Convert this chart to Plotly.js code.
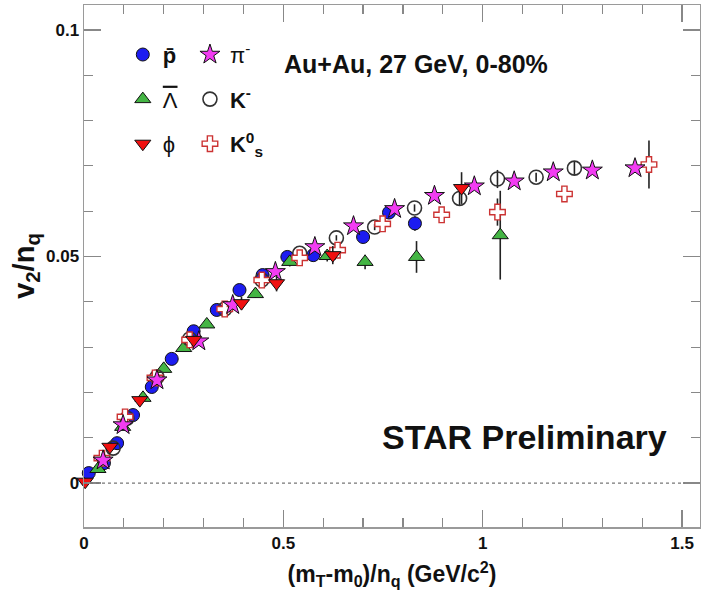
<!DOCTYPE html>
<html>
<head>
<meta charset="utf-8">
<script src="https://cdn.plot.ly/plotly-3.0.1.min.js"></script>
<style>html,body{margin:0;padding:0;background:#fff;}#chart{width:701px;height:598px;}</style>
</head>
<body>
<div id="chart"></div>
<script>
// ---- data ----
var pbarX = [0.012, 0.05, 0.083, 0.123, 0.17, 0.22, 0.275, 0.333, 0.39, 0.448, 0.51, 0.575, 0.70, 0.765, 0.83];
var pbarY = [0.0022, 0.0044, 0.0088, 0.015, 0.0212, 0.0274, 0.0335, 0.0382, 0.0426, 0.0459, 0.0499, 0.0503, 0.0543, 0.0597, 0.0573];
var pbarE = [0.0004, 0.0004, 0.0004, 0.0004, 0.0004, 0.0005, 0.0005, 0.0005, 0.0006, 0.0006, 0.0007, 0.0008, 0.0010, 0.0012, 0.0016];

var lamX = [0.035, 0.097, 0.148, 0.20, 0.25, 0.308, 0.43, 0.516, 0.61, 0.705, 0.834, 1.044];
var lamY = [0.0031, 0.0124, 0.0188, 0.0252, 0.0298, 0.035, 0.0417, 0.0488, 0.0501, 0.0488, 0.0499, 0.0547];
var lamE = [0.0004, 0.0005, 0.0005, 0.0005, 0.0006, 0.0006, 0.0008, 0.0010, 0.0012, 0.0016, 0.0035, 0.0098];

var phiX = [0.003, 0.065, 0.14, 0.275, 0.395, 0.483, 0.624, 0.947];
var phiY = [0.0003, 0.008, 0.0183, 0.0316, 0.0397, 0.0441, 0.0503, 0.0651];
var phiE = [0.0007, 0.0007, 0.0008, 0.0009, 0.0014, 0.0018, 0.0020, 0.0035];

var piX = [0.048, 0.098, 0.183, 0.288, 0.373, 0.48, 0.579, 0.676, 0.779, 0.879, 0.979, 1.079, 1.177, 1.275, 1.382];
var piY = [0.005, 0.0128, 0.0227, 0.0313, 0.0393, 0.0466, 0.0521, 0.0567, 0.0605, 0.0634, 0.0655, 0.0666, 0.0686, 0.069, 0.0695];
var piE = [0.0003, 0.0003, 0.0003, 0.0003, 0.0003, 0.0003, 0.0004, 0.0004, 0.0004, 0.0005, 0.0005, 0.0006, 0.0006, 0.0007, 0.0008];

var kmX = [0.073, 0.108, 0.183, 0.265, 0.353, 0.446, 0.541, 0.633, 0.729, 0.829, 0.942, 1.037, 1.134, 1.23];
var kmY = [0.0077, 0.0143, 0.0234, 0.0318, 0.0384, 0.0448, 0.0507, 0.0541, 0.0565, 0.0607, 0.0628, 0.0671, 0.0675, 0.0695];
var kmE = [0.0004, 0.0004, 0.0004, 0.0004, 0.0005, 0.0005, 0.0006, 0.0006, 0.0007, 0.0008, 0.0015, 0.0020, 0.0010, 0.0015];

var k0X = [0.045, 0.103, 0.178, 0.265, 0.353, 0.446, 0.541, 0.636, 0.749, 0.897, 1.037, 1.205, 1.417];
var k0Y = [0.0055, 0.0146, 0.0232, 0.0316, 0.0384, 0.0448, 0.0497, 0.0514, 0.0572, 0.0592, 0.0598, 0.0638, 0.0703];
var k0E = [0.0003, 0.0003, 0.0003, 0.0003, 0.0004, 0.0004, 0.0005, 0.0005, 0.0006, 0.0008, 0.0030, 0.0017, 0.0053];

var xTickVals = [0, 0.5, 1, 1.5];
var xTickText = ['0', '0.5', '1', '1.5'];
var yTickVals = [0, 0.05, 0.1];
var yTickText = ['0', '0.05', '0.1'];

// ---- styling ----
var FONT = 'Liberation Sans, Arial, Helvetica, sans-serif';
function err(e) {
  return {type: 'data', array: e, visible: true, color: '#222', thickness: 1.6, width: 0};
}
function tr(x, y, e, name, legend, rank, marker) {
  return {x: x, y: y, error_y: err(e), type: 'scatter', mode: 'markers', name: name,
          legend: legend, legendgroup: name, legendrank: rank, marker: marker, cliponaxis: false};
}
var traces = [
  tr(pbarX, pbarY, pbarE, '<b>p&#772;</b>', 'legend', 1,
     {symbol: 'circle', size: 13, color: '#1c1cf0', line: {color: '#111', width: 1}}),
  tr(lamX, lamY, lamE, '<span style="text-decoration:overline">&#923;</span>', 'legend', 2,
     {symbol: 'triangle-up', size: 14, color: '#44b544', line: {color: '#111', width: 1}}),
  tr(kmX, kmY, kmE, '<b>K<sup>-</sup></b>', 'legend2', 2,
     {symbol: 'circle-open', size: 14, color: '#333', line: {color: '#333', width: 1.6}}),
  tr(k0X, k0Y, k0E, '<b>K<sup>0</sup><sub>s</sub></b>', 'legend2', 3,
     {symbol: 'cross', size: 13, color: '#ffffff', line: {color: '#cc3333', width: 1.4}}),
  tr(piX, piY, piE, '&#960;<sup>-</sup>', 'legend2', 1,
     {symbol: 'star', size: 15, color: '#f23cf2', line: {color: '#111', width: 1}}),
  tr(phiX, phiY, phiE, '&#981;', 'legend', 3,
     {symbol: 'triangle-down', size: 14, color: '#f01010', line: {color: '#111', width: 1}})
];

var axisCommon = {
  showgrid: false, zeroline: false, showline: true, linecolor: '#9a9a9a', linewidth: 1.5,
  ticks: 'inside', ticklen: 17, tickwidth: 1.3, tickcolor: '#888', mirror: 'allticks',
  tickfont: {family: FONT, size: 17, color: '#111', weight: 'bold'},
  tickmode: 'array'
};
var layout = {
  width: 701, height: 598,
  margin: {l: 84, r: 1, t: 5, b: 71},
  paper_bgcolor: '#fff', plot_bgcolor: '#fff',
  font: {family: FONT, color: '#111'},
  showlegend: true,
  xaxis: Object.assign({}, axisCommon, {
    range: [0, 1.545], tickvals: xTickVals, ticktext: xTickText,
    minor: {dtick: 0.1, tick0: 0, ticks: 'inside', ticklen: 9, tickwidth: 1.2, tickcolor: '#888'},
    title: {text: '<b>(m<sub>T</sub>-m<sub>0</sub>)/n<sub>q</sub> (GeV/c<sup>2</sup>)</b>',
            font: {family: FONT, size: 23, color: '#111'}, standoff: 14}
  }),
  yaxis: Object.assign({}, axisCommon, {
    range: [-0.0097, 0.1055], tickvals: yTickVals, ticktext: yTickText,
    minor: {dtick: 0.01, tick0: 0, ticks: 'inside', ticklen: 9, tickwidth: 1.2, tickcolor: '#888'},
    title: {text: '<b>v<sub>2</sub>/n<sub>q</sub></b>',
            font: {family: FONT, size: 29, color: '#111'}, standoff: 3}
  }),
  legend: {x: 0.063, y: 0.945, xanchor: 'left', yanchor: 'top', bgcolor: 'rgba(0,0,0,0)',
           traceorder: 'grouped', tracegroupgap: 13, itemsizing: 'trace',
           font: {family: FONT, size: 22, color: '#111'}},
  legend2: {x: 0.172, y: 0.945, xanchor: 'left', yanchor: 'top', bgcolor: 'rgba(0,0,0,0)',
           traceorder: 'grouped', tracegroupgap: 13, itemsizing: 'trace',
           font: {family: FONT, size: 22, color: '#111'}},
  shapes: [{type: 'line', xref: 'paper', x0: 0, x1: 0.975, yref: 'y', y0: 0, y1: 0,
            line: {color: '#777', width: 1.2, dash: 'dot'}}],
  annotations: [
    {xref: 'paper', yref: 'paper', x: 0.322, y: 0.887, xanchor: 'left', yanchor: 'middle',
     text: '<b>Au+Au, 27 GeV, 0-80%</b>', showarrow: false,
     font: {family: FONT, size: 25, color: '#111'}},
    {xref: 'paper', yref: 'paper', x: 0.48, y: 0.172, xanchor: 'left', yanchor: 'middle',
     text: '<b>STAR Preliminary</b>', showarrow: false,
     font: {family: FONT, size: 34, color: '#111'}}
  ]
};
Plotly.newPlot('chart', traces, layout, {displayModeBar: false, staticPlot: true});
</script>
</body>
</html>
